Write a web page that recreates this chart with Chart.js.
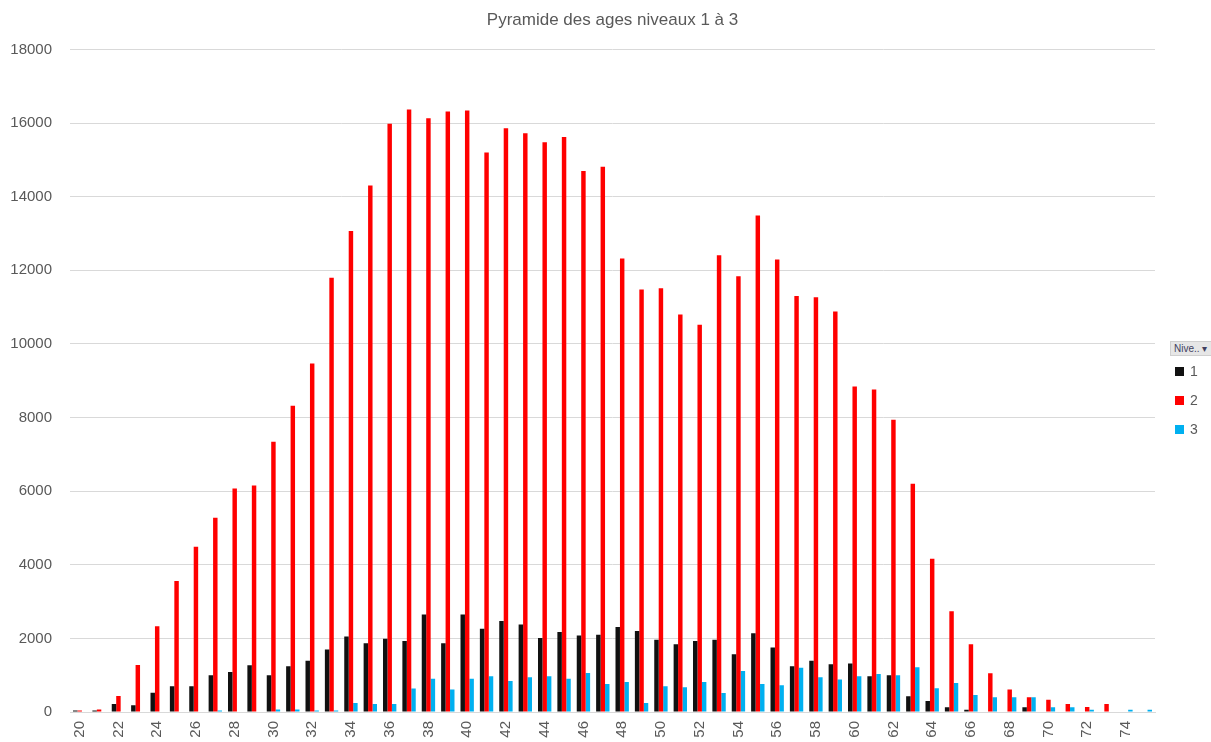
<!DOCTYPE html>
<html lang="fr">
<head>
<meta charset="utf-8">
<title>Pyramide des ages niveaux 1 à 3</title>
<script src="https://cdn.jsdelivr.net/npm/chart.js@4/dist/chart.umd.min.js"></script>
<style>
  html, body { margin:0; padding:0; background:#fff; overflow:hidden; }
  #wrap { position:relative; width:1211px; height:742px; }
  #chart { position:absolute; left:0; top:0; }
  .leg-head {
    position:absolute; left:1170px; top:341px; width:48px; height:13px;
    background:#e6e6e6; border:1px solid #cfcfcf;
    font:10px "Liberation Sans", Arial, sans-serif; color:#404060;
    line-height:13px; padding-left:3px; white-space:nowrap;
  }
  .leg-item {
    position:absolute; left:1175px; height:16px;
    font:14px "Liberation Sans", Arial, sans-serif; color:#595959; line-height:16px;
  }
  .leg-item span.sw { display:inline-block; width:9px; height:9px; margin-right:6px; vertical-align:0px; }
</style>
</head>
<body>
<div id="wrap">
  <canvas id="chart" width="1211" height="742"></canvas>
  <div class="leg-head">Nive.. ▾</div>
  <div class="leg-item" style="top:363px"><span class="sw" style="background:#111111"></span>1</div>
  <div class="leg-item" style="top:392px"><span class="sw" style="background:#ff0000"></span>2</div>
  <div class="leg-item" style="top:421px"><span class="sw" style="background:#00b0f0"></span>3</div>
</div>
<script>
// DATA
const ages = [20,21,22,23,24,25,26,27,28,29,30,31,32,33,34,35,36,37,38,39,40,41,42,43,44,45,46,47,
              48,49,50,51,52,53,54,55,56,57,58,59,60,61,62,63,64,65,66,67,68,69,70,71,72,73,74,75];
const niveau1 = [40,40,220,180,520,700,700,1000,1090,1270,1000,1240,1390,1700,2050,1870,1990,1930,2650,1870,
                 2650,2260,2470,2380,2010,2170,2080,2100,2310,2200,1960,1840,1930,1960,1570,2140,1750,1240,
                 1390,1300,1320,970,1000,430,300,130,60,0,0,130,0,0,0,0,0,0];
const niveau2 = [40,70,435,1280,2330,3560,4490,5280,6070,6150,7340,8320,9470,11800,13070,14300,15980,16370,
                 16130,16310,16340,15200,15860,15720,15480,15620,14700,14815,12320,11480,11510,10800,10520,
                 12410,11840,13490,12295,11300,11270,10880,8840,8760,7940,6200,4160,2740,1840,1050,610,400,
                 335,218,136,218,0,0];
const niveau3 = [0,0,0,0,0,0,0,40,0,0,70,70,40,40,245,220,220,635,905,610,905,970,845,945,970,905,1060,760,
                 815,245,700,670,815,515,1115,760,725,1205,945,880,970,1035,1000,1215,645,790,460,400,400,400,
                 130,130,60,0,60,60];
const yTicks = [0,2000,4000,6000,8000,10000,12000,14000,16000,18000];

const txt = '#595959';
const gridCol = '#d9d9d9';
const font = { family:'"Liberation Sans", Arial, sans-serif', size:15 };

new Chart(document.getElementById('chart').getContext('2d'), {
  type:'bar',
  data:{
    labels: ages,
    datasets:[
      { label:'1', data:niveau1, backgroundColor:'#111111' },
      { label:'2', data:niveau2, backgroundColor:'#ff0000' },
      { label:'3', data:niveau3, backgroundColor:'#00b0f0' }
    ]
  },
  options:{
    responsive:false,
    animation:false,
    datasets:{ bar:{ categoryPercentage:0.69, barPercentage:1 } },
    layout:{ padding:{ left:10, right:56, top:0, bottom:0 } },
    plugins:{
      legend:{ display:false },
      tooltip:{ enabled:false },
      title:{
        display:true, text:'Pyramide des ages niveaux 1 à 3', color:txt, fullSize:false,
        font:{ family:font.family, size:17, weight:'normal' }, padding:{ top:10, bottom:19 }
      }
    },
    scales:{
      x:{
        grid:{ display:false, drawTicks:false },
        border:{ display:true, color:gridCol },
        afterFit: ax => { ax.height = 30; },
        ticks:{
          color:txt, font, padding:9, autoSkip:false, maxRotation:90, minRotation:90,
          callback:(v,i) => i % 2 === 0 ? String(ages[i]) : ''
        }
      },
      y:{
        min:yTicks[0], max:yTicks[yTicks.length-1],
        afterBuildTicks: ax => { ax.ticks = yTicks.map(v => ({ value:v })); },
        afterFit: ax => { ax.width = 60; },
        grid:{ color:gridCol, drawTicks:false },
        border:{ display:false },
        ticks:{ color:txt, font, padding:18, callback:v => String(v) }
      }
    }
  }
});
</script>
</body>
</html>
